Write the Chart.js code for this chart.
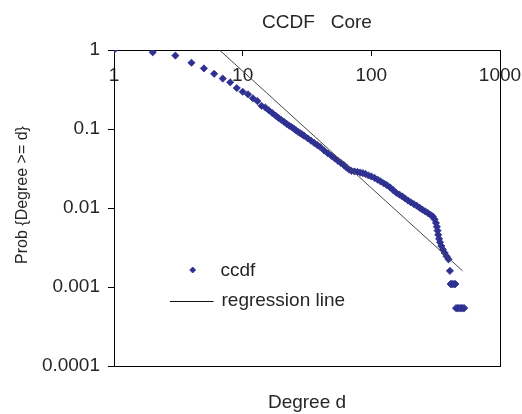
<!DOCTYPE html>
<html><head><meta charset="utf-8">
<script src="https://cdn.jsdelivr.net/npm/chart.js@4/dist/chart.umd.min.js"></script>
<style>html,body{margin:0;padding:0;background:#fff}#wrap{width:522px;height:414px}</style>
</head><body><div id="wrap"><canvas id="c" width="522" height="414"></canvas></div>
<script>
const chartTitle = 'CCDF   Core';
const xAxisTitle = 'Degree d';
const yAxisTitle = 'Prob {Degree >= d}';
const seriesNames = ['ccdf', 'regression line'];
const xTicks = [1, 10, 100, 1000];
const xTickLabels = ['1', '10', '100', '1000'];
const yTicks = [1, 0.1, 0.01, 0.001, 0.0001];
const yTickLabels = ['1', '0.1', '0.01', '0.001', '0.0001'];

const ccdfDegrees = [1,2,3,4,5,6,7,8,9,10,11,12,13,14,15,16,17,18,19,20,21,22,23,24,25,26,27,28,29,30,
  32,34,36,38,40,43,46,49,52,55,58,61,64,67,70,74,78,82,86,90,95,100,106,112,118,125,132,140,148,156,
  165,174,183,193,203,214,225,237,249,262,275,288,300,310,318,323,327,331,336,342,350,360,372,385,398,
  408,413,422,431,440,450,455,467,479,491,503,515,527];
const ccdfProb = [1,0.935,0.85,0.69,0.585,0.50,0.435,0.39,0.33,0.296,0.275,0.245,0.226,0.197,0.187,0.172,0.159,0.148,0.138,0.130,0.123,0.116,0.110,0.106,0.101,0.096,0.0916,0.0885,0.0853,0.0820,
  0.0762,0.0710,0.0665,0.0626,0.0592,0.0534,0.0490,0.0456,0.0424,0.0396,0.0372,0.0351,0.0326,0.0307,0.0295,0.0290,0.0286,0.0281,0.0276,0.0270,0.0258,0.0251,0.0240,0.0228,0.0217,0.0205,0.0195,0.0182,0.0168,0.0156,
  0.0148,0.0140,0.0132,0.0124,0.0118,0.0112,0.0107,0.0101,0.00955,0.00907,0.00865,0.00821,0.00783,0.00718,0.00648,0.00580,0.00517,0.00458,0.00407,0.00368,0.00330,0.00298,0.00270,0.00244,0.00224,
  0.00160,0.00109,0.00109,0.00109,0.00109,0.00109,0.00054,0.00054,0.00054,0.00054,0.00054,0.00054,0.00054];

const regressionDegrees = [6.6, 512];
const regressionProb = [1, 0.0016];

const FONT = "'Liberation Sans', Arial, sans-serif";
const TXT = '#262626';
const BLUE = '#2E3192';

const annotPlugin = {
  id: 'annotPlugin',
  afterDraw(chart) {
    const ctx = chart.ctx, a = chart.chartArea;
    ctx.save();
    ctx.fillStyle = TXT;
    ctx.textBaseline = 'alphabetic';
    // main title
    ctx.font = '19px ' + FONT;
    ctx.textAlign = 'center';
    ctx.fillText(chartTitle, a.left + 203, 27.5);
    // y axis title
    ctx.save();
    ctx.translate(26.5, 195);
    ctx.rotate(-Math.PI / 2);
    ctx.font = '16px ' + FONT;
    ctx.fillText(yAxisTitle, 0, 0);
    ctx.restore();
    // legend inside plot
    const ds = chart.data.datasets;
    ctx.textAlign = 'left';
    ctx.font = '19px ' + FONT;
    const mx = a.left + 78.7, my = a.top + 220, r = 3;
    ctx.beginPath();
    ctx.moveTo(mx - r, my); ctx.lineTo(mx, my - r); ctx.lineTo(mx + r, my); ctx.lineTo(mx, my + r); ctx.closePath();
    ctx.fillStyle = ds[0].backgroundColor; ctx.fill();
    ctx.lineWidth = ds[0].pointBorderWidth; ctx.strokeStyle = ds[0].borderColor; ctx.stroke();
    ctx.fillStyle = TXT;
    ctx.fillText(ds[0].label, a.left + 106.5, a.top + 225.5);
    ctx.beginPath();
    ctx.moveTo(a.left + 56, a.top + 251.5); ctx.lineTo(a.left + 99.5, a.top + 251.5);
    ctx.strokeStyle = '#111'; ctx.lineWidth = 1; ctx.stroke();
    ctx.fillText(ds[1].label, a.left + 107.5, a.top + 256);
    ctx.restore();
  }
};

const noPad = s => { s.paddingLeft = 0; s.paddingRight = 0; };

new Chart(document.getElementById('c'), {
  type: 'scatter',
  data: {
    datasets: [
      {
        label: seriesNames[0],
        data: ccdfDegrees.map((d, i) => ({x: d, y: ccdfProb[i]})),
        xAxisID: 'x', yAxisID: 'y',
        pointStyle: 'rectRot', pointRadius: 3.6, pointBorderWidth: 0.8,
        backgroundColor: BLUE, borderColor: BLUE,
        showLine: false, order: 1
      },
      {
        label: seriesNames[1],
        data: regressionDegrees.map((d, i) => ({x: d, y: regressionProb[i]})),
        xAxisID: 'x', yAxisID: 'y',
        showLine: true, borderColor: '#4a4a4a', borderWidth: 1,
        pointRadius: 0, fill: false, order: 0
      }
    ]
  },
  options: {
    responsive: false,
    animation: false,
    devicePixelRatio: 1,
    events: [],
    layout: {padding: {top: 50, right: 22, bottom: 0, left: 0}},
    plugins: {legend: {display: false}, tooltip: {enabled: false}, title: {display: false}},
    scales: {
      x: {
        type: 'logarithmic', position: {y: 1}, min: 1, max: 1000,
        afterBuildTicks: s => { s.ticks = xTicks.map(v => ({value: v})); },
        afterFit: noPad,
        ticks: {
          callback: v => xTickLabels[xTicks.indexOf(v)],
          font: {family: FONT, size: 19}, color: TXT, padding: 9,
          maxRotation: 0, autoSkip: false
        },
        grid: {display: true, drawOnChartArea: false, drawTicks: true, tickLength: 5, color: '#000', lineWidth: 1},
        border: {display: true, color: '#000', width: 1}
      },
      y: {
        type: 'logarithmic', position: 'left', min: 0.0001, max: 1,
        afterBuildTicks: s => { s.ticks = yTicks.map(v => ({value: v})); },
        ticks: {
          callback: v => yTickLabels[yTicks.indexOf(v)],
          font: {family: FONT, size: 19}, color: TXT, padding: 8, autoSkip: false
        },
        grid: {display: true, drawOnChartArea: false, drawTicks: true, tickLength: 6, color: '#000', lineWidth: 1},
        border: {display: true, color: '#000', width: 1},
        afterFit: s => { s.width = 114; }
      },
      x2: {
        type: 'linear', position: 'bottom', min: 0, max: 1,
        grid: {display: false, drawTicks: false},
        ticks: {display: false},
        border: {display: true, color: '#000', width: 1},
        title: {display: true, text: xAxisTitle, font: {family: FONT, size: 19}, color: TXT, padding: {top: 0, bottom: 0}},
        afterFit: s => { s.height = 48; s.paddingLeft = 0; s.paddingRight = 0; }
      },
      y2: {
        type: 'linear', position: 'right', min: 0, max: 1,
        grid: {display: false, drawTicks: false},
        ticks: {display: false},
        border: {display: true, color: '#000', width: 1},
        afterFit: s => { s.width = 0; }
      }
    }
  },
  plugins: [annotPlugin]
});
</script>
</body></html>
